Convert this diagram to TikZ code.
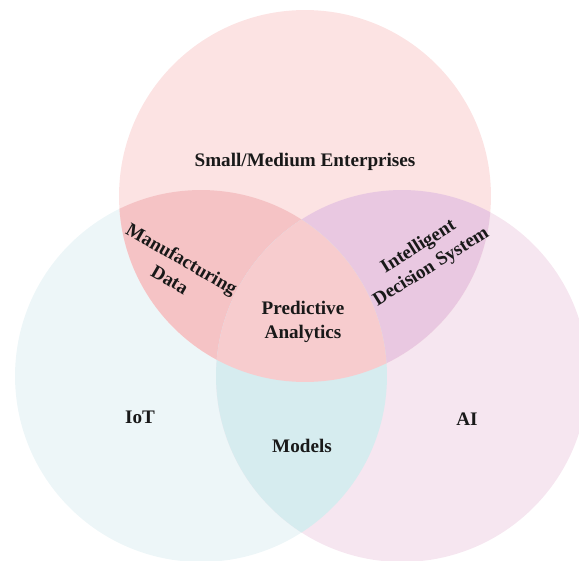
\documentclass[tikz,border=0pt]{standalone}
\usepackage{fontspec}
\setmainfont{Liberation Serif}
\usepackage{tikz}
\usetikzlibrary{positioning}

\definecolor{topfill}{RGB}{252,227,227}
\definecolor{leftfill}{RGB}{237,246,248}
\definecolor{rightfill}{RGB}{246,230,240}
\definecolor{topleft}{RGB}{245,195,197}
\definecolor{topright}{RGB}{233,200,225}
\definecolor{leftright}{RGB}{214,236,239}
\definecolor{allthree}{RGB}{247,204,206}
\definecolor{ink}{RGB}{25,25,25}

\begin{document}
\begin{tikzpicture}[x=0.02cm, y=-0.02cm,
    lbl/.style={font=\fontsize{10.9}{13.6}\selectfont\bfseries, text=ink, align=center, inner sep=0pt},
    set/.style={radius=3.72cm}]
    \useasboundingbox (0,0) rectangle (579,561);
    \clip (0,0) rectangle (579,561);

    \coordinate (smes) at (305,196);
    \coordinate (iot) at (201,376);
    \coordinate (ai) at (402,376);

    % the three sets
    \fill[leftfill] (iot) circle[set];
    \fill[rightfill] (ai) circle[set];
    \fill[topfill] (smes) circle[set];

    % overlaps
    \begin{scope}
        \clip (smes) circle[set];
        \fill[topleft] (iot) circle[set];
    \end{scope}
    \begin{scope}
        \clip (smes) circle[set];
        \fill[topright] (ai) circle[set];
    \end{scope}
    \begin{scope}
        \clip (iot) circle[set];
        \fill[leftright] (ai) circle[set];
    \end{scope}
    \begin{scope}
        \clip (smes) circle[set];
        \clip (iot) circle[set];
        \fill[allthree] (ai) circle[set];
    \end{scope}

    % labels
    \node[lbl] (sme) at (305,162) {Small/Medium Enterprises};
    \node[lbl, rotate=-30] (mfg) at (176,269) {Manufacturing\\Data};
    \node[lbl, rotate=32] (ids) at (425,257) {Intelligent\\Decision System};
    \node[lbl] (pred) at (303,322) {Predictive\\Analytics};
    \node[lbl] (iotl) at (140,417) {IoT};
    \node[lbl] (ail) at (467,419) {AI};
    \node[lbl] (mdl) at (302,446) {Models};
\end{tikzpicture}
\end{document}
